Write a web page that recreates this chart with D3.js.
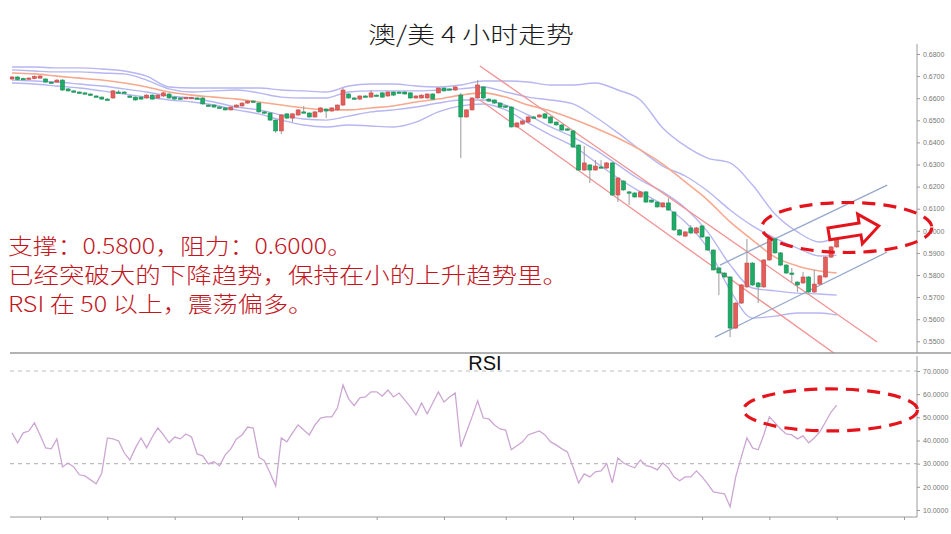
<!DOCTYPE html>
<html><head><meta charset="utf-8">
<script src="https://cdn.jsdelivr.net/npm/d3@7"></script>
<style>
html,body{margin:0;padding:0;background:#fff;}
svg{display:block;}
</style></head><body>
<svg id="chart" width="951" height="534"></svg>
<script>
// ---------------- DATA ----------------
const opens = [0.6687,0.6696,0.6689,0.6689,0.6689,0.6691,0.6687,0.6673,0.6673,0.6682,
0.6642,0.6633,0.6628,0.6624,0.6619,0.6610,0.6605,0.6596,0.6601,0.6628,
0.6628,0.6610,0.6605,0.6605,0.6601,0.6614,0.6601,0.6610,0.6619,0.6605,
0.6601,0.6599,0.6599,0.6601,0.6601,0.6569,0.6569,0.6560,0.6556,0.6547,
0.6560,0.6565,0.6578,0.6587,0.6578,0.6538,0.6533,0.6501,0.6452,0.6529,
0.6510,0.6524,0.6538,0.6533,0.6515,0.6538,0.6551,0.6542,0.6547,0.6569,
0.6619,0.6601,0.6596,0.6610,0.6605,0.6614,0.6624,0.6610,0.6628,0.6628,
0.6628,0.6624,0.6601,0.6601,0.6601,0.6619,0.6624,0.6646,0.6642,0.6637,
0.6614,0.6515,0.6547,0.6601,0.6651,0.6596,0.6592,0.6578,0.6565,0.6560,
0.6470,0.6483,0.6492,0.6515,0.6515,0.6529,0.6515,0.6492,0.6479,0.6461,
0.6452,0.6388,0.6275,0.6298,0.6275,0.6289,0.6284,0.6307,0.6162,0.6225,
0.6176,0.6171,0.6153,0.6176,0.6139,0.6130,0.6108,0.6126,0.6085,0.6004,
0.5976,0.6013,0.5990,0.6022,0.5972,0.5913,0.5832,0.5809,0.5791,0.5560,
0.5673,0.5746,0.5854,0.5764,0.5746,0.5868,0.5963,0.5900,0.5845,0.5809,
0.5768,0.5764,0.5791,0.5723,0.5759,0.5791,0.5881,0.5927];
const highs = [0.6700,0.6700,0.6693,0.6695,0.6703,0.6705,0.6690,0.6676,0.6686,0.6686,
0.6645,0.6636,0.6631,0.6627,0.6622,0.6613,0.6608,0.6600,0.6637,0.6637,
0.6631,0.6613,0.6608,0.6609,0.6618,0.6618,0.6617,0.6628,0.6622,0.6608,
0.6604,0.6606,0.6606,0.6604,0.6604,0.6572,0.6572,0.6563,0.6559,0.6563,
0.6572,0.6581,0.6590,0.6590,0.6581,0.6541,0.6536,0.6504,0.6528,0.6532,
0.6532,0.6550,0.6565,0.6536,0.6541,0.6559,0.6554,0.6559,0.6572,0.6646,
0.6623,0.6604,0.6613,0.6613,0.6637,0.6617,0.6627,0.6631,0.6631,0.6631,
0.6631,0.6627,0.6613,0.6617,0.6622,0.6622,0.6649,0.6649,0.6645,0.6654,
0.6624,0.6550,0.6604,0.6682,0.6655,0.6600,0.6595,0.6581,0.6568,0.6563,
0.6491,0.6500,0.6518,0.6520,0.6528,0.6532,0.6518,0.6495,0.6482,0.6464,
0.6455,0.6391,0.6384,0.6301,0.6320,0.6320,0.6311,0.6311,0.6243,0.6229,
0.6180,0.6175,0.6180,0.6180,0.6142,0.6133,0.6129,0.6148,0.6088,0.6008,
0.5998,0.6026,0.6017,0.6026,0.5975,0.5916,0.5835,0.5812,0.5795,0.5677,
0.5759,0.5963,0.5858,0.5768,0.5872,0.5981,0.5967,0.5904,0.5849,0.5832,
0.5772,0.5814,0.5795,0.5823,0.5800,0.5885,0.5931,0.5995];
const lows = [0.6682,0.6680,0.6683,0.6686,0.6686,0.6688,0.6670,0.6668,0.6670,0.6633,
0.6630,0.6625,0.6621,0.6618,0.6611,0.6605,0.6593,0.6590,0.6597,0.6623,
0.6623,0.6602,0.6589,0.6593,0.6597,0.6593,0.6598,0.6606,0.6598,0.6593,
0.6596,0.6596,0.6596,0.6596,0.6571,0.6562,0.6557,0.6553,0.6544,0.6544,
0.6557,0.6562,0.6575,0.6580,0.6535,0.6530,0.6498,0.6443,0.6438,0.6507,
0.6492,0.6521,0.6533,0.6512,0.6512,0.6535,0.6510,0.6539,0.6544,0.6565,
0.6598,0.6596,0.6593,0.6605,0.6602,0.6609,0.6602,0.6607,0.6611,0.6623,
0.6616,0.6598,0.6598,0.6598,0.6598,0.6593,0.6621,0.6630,0.6637,0.6634,
0.6329,0.6512,0.6544,0.6597,0.6597,0.6584,0.6575,0.6557,0.6557,0.6467,
0.6467,0.6480,0.6489,0.6510,0.6512,0.6507,0.6485,0.6476,0.6453,0.6453,
0.6376,0.6272,0.6271,0.6216,0.6272,0.6284,0.6281,0.6158,0.6130,0.6181,
0.6117,0.6150,0.6150,0.6127,0.6127,0.6105,0.6105,0.6091,0.6000,0.5978,
0.5973,0.5987,0.5987,0.5968,0.5910,0.5820,0.5709,0.5788,0.5519,0.5556,
0.5669,0.5742,0.5751,0.5673,0.5742,0.5864,0.5896,0.5841,0.5805,0.5768,
0.5723,0.5760,0.5719,0.5719,0.5755,0.5787,0.5877,0.5923];
const closes = [0.6696,0.6685,0.6687,0.6691,0.6698,0.6700,0.6673,0.6671,0.6682,0.6637,
0.6633,0.6628,0.6624,0.6621,0.6614,0.6608,0.6596,0.6594,0.6633,0.6626,
0.6626,0.6605,0.6592,0.6596,0.6614,0.6596,0.6614,0.6624,0.6601,0.6596,
0.6599,0.6603,0.6603,0.6599,0.6574,0.6565,0.6560,0.6556,0.6547,0.6560,
0.6569,0.6578,0.6587,0.6583,0.6538,0.6533,0.6501,0.6452,0.6524,0.6510,
0.6529,0.6547,0.6536,0.6515,0.6538,0.6556,0.6542,0.6556,0.6569,0.6637,
0.6601,0.6599,0.6610,0.6608,0.6624,0.6612,0.6605,0.6628,0.6614,0.6626,
0.6619,0.6601,0.6610,0.6614,0.6619,0.6596,0.6646,0.6633,0.6640,0.6651,
0.6515,0.6547,0.6601,0.6660,0.6601,0.6587,0.6578,0.6560,0.6560,0.6470,
0.6488,0.6497,0.6515,0.6513,0.6524,0.6510,0.6488,0.6479,0.6456,0.6456,
0.6379,0.6275,0.6307,0.6275,0.6293,0.6287,0.6307,0.6162,0.6239,0.6185,
0.6174,0.6153,0.6176,0.6130,0.6130,0.6108,0.6126,0.6094,0.6004,0.5981,
0.5995,0.5990,0.6013,0.5972,0.5913,0.5823,0.5809,0.5791,0.5560,0.5673,
0.5755,0.5854,0.5755,0.5746,0.5868,0.5963,0.5900,0.5845,0.5809,0.5805,
0.5755,0.5791,0.5723,0.5759,0.5796,0.5881,0.5927,0.5972];

const rsiValues = [43.3,39,43.3,44.1,47.6,42.4,36.8,36.4,40.7,28.6,30.3,28.6,25.2,24.7,23,21.3,26,41.1,40.7,39.8,
34.7,31.6,36.8,41.1,36.8,41.5,45.4,42.4,39,41.5,40.7,42.8,41.5,34.2,33.4,29.9,30.8,29.1,33.8,36.4,
40.7,42.4,45.8,45.4,32.9,31.2,26,20.4,41.1,39.4,43.3,46.7,44.5,42.4,46.7,
49.7,50.2,50.2,54,64,58,55,58.4,58.8,61,61,59.2,61.8,58.8,60.5,57.5,54.5,51,56.2,51.5,
56.2,61,56.6,58.8,60.5,37.2,43.7,50.2,57.1,49.7,49.3,46.7,45,44.5,36,37.7,39.4,42.4,43.3,44.1,
42.4,39.4,38.1,36.4,35.1,28.6,21.7,25.6,24.3,26.5,26.9,30,21.7,32.5,30.3,29.1,28.2,
31.6,29.1,28.6,27.3,30.3,28.2,24.3,22.6,24.3,24.3,26.9,24.3,21.3,17.8,17.4,17,11.4,24.3,32.9,41.1,
36.8,36,42.4,50.2,47.6,45,42.8,42.4,40.7,42,39,41.1,43.7,48,52.3,55.3];

// band sample positions (candle index) and values
const bandIdx = [0,4,8,12,16,20,24,28,32,36,40,44,48,52,56,60,64,68,72,76,80,84,88,92,96,100,104,108,112,116,120,124,128,132,136,140,144,147];
const bandOuterUpper = [0.6741,0.6741,0.6737,0.6737,0.6732,0.6723,0.6700,0.6651,0.6646,0.6646,0.6646,0.6646,0.6637,0.6633,0.6628,0.6655,0.6664,0.6664,0.6655,0.6651,0.6660,0.6678,0.6678,0.6673,0.6660,0.6660,0.6669,0.6637,0.6592,0.6465,0.6384,0.6329,0.6307,0.6207,0.6076,0.5995,0.5949,0.5972];
const bandInnerUpper = [0.6728,0.6723,0.6719,0.6719,0.6714,0.6710,0.6682,0.6642,0.6628,0.6633,0.6637,0.6624,0.6605,0.6601,0.6601,0.6628,0.6633,0.6633,0.6633,0.6637,0.6642,0.6651,0.6628,0.6605,0.6592,0.6574,0.6515,0.6443,0.6366,0.6293,0.6248,0.6180,0.6094,0.6022,0.5967,0.5922,0.5886,0.5890];
const movingAvg = [0.6714,0.6710,0.6700,0.6691,0.6682,0.6669,0.6651,0.6628,0.6614,0.6605,0.6596,0.6583,0.6569,0.6556,0.6547,0.6547,0.6556,0.6565,0.6583,0.6596,0.6614,0.6624,0.6605,0.6569,0.6542,0.6506,0.6465,0.6420,0.6366,0.6302,0.6221,0.6139,0.6040,0.5958,0.5881,0.5841,0.5818,0.5809];
const bandInnerLower = [0.6682,0.6678,0.6673,0.6664,0.6655,0.6642,0.6628,0.6610,0.6601,0.6583,0.6560,0.6547,0.6524,0.6506,0.6501,0.6519,0.6538,0.6547,0.6560,0.6578,0.6592,0.6592,0.6569,0.6524,0.6470,0.6424,0.6366,0.6298,0.6230,0.6176,0.6103,0.5995,0.5846,0.5741,0.5728,0.5718,0.5714,0.5709];
const bandOuterLower = [0.6669,0.6664,0.6655,0.6646,0.6633,0.6619,0.6605,0.6592,0.6583,0.6569,0.6547,0.6529,0.6501,0.6479,0.6470,0.6479,0.6474,0.6470,0.6492,0.6538,0.6565,0.6574,0.6547,0.6488,0.6433,0.6384,0.6311,0.6239,0.6176,0.6117,0.6040,0.5922,0.5732,0.5605,0.5614,0.5628,0.5628,0.5619];

// trend lines: [candle index, price]
const downChannelUpper = [[83.4,0.6746],[154.2,0.5497]];
const downChannelLower = [[83.4,0.6592],[147.2,0.5434]];
const upChannelUpper = [[126.2,0.5845],[156,0.6207]];
const upChannelLower = [[125.3,0.5519],[156,0.5904]];

const priceTicks = [0.55,0.56,0.57,0.58,0.59,0.60,0.61,0.62,0.63,0.64,0.65,0.66,0.67,0.68];
const rsiTicks = [10,20,30,40,50,60,70];
const rsiGuides = [30,70];
const timeTicks = [5,17,29,41,51,65,77,88,100,111,123,135,147,159];

const titleText = "澳/美 4 小时走势";
const noteLines = ["支撑：0.5800，阻力：0.6000。","已经突破大的下降趋势，保持在小的上升趋势里。","RSI 在 50 以上，震荡偏多。"];

// annotation anchors (index, value)
const priceEllipse = {i:148.8, p:0.6015};
const rsiEllipse = {i:145.9, v:53.2};
const arrowFrom = {i:145.6, p:0.5986}, arrowTo = {i:154.5, p:0.6022};

// ---------------- DRAW ----------------
const svg = d3.select("#chart");
const N = closes.length;
const x = d3.scaleLinear().domain([0, N-1]).range([12, 836.7]);
const yP = d3.scaleLinear().domain([0.55, 0.68]).range([341.3, 54]);
const yR = d3.scaleLinear().domain([10, 70]).range([510, 371]);

const axisX = 917, topY0 = 44, sepY = 353, bottomY = 517, leftX = 10;

const defs = svg.append("defs");
defs.append("clipPath").attr("id","clipTop").append("rect")
  .attr("x",leftX).attr("y",topY0).attr("width",axisX-leftX).attr("height",sepY-topY0);
defs.append("clipPath").attr("id","clipBot").append("rect")
  .attr("x",leftX).attr("y",sepY+1).attr("width",axisX-leftX).attr("height",bottomY-sepY-1);

// title
svg.append("text").attr("x",471).attr("y",43).attr("text-anchor","middle")
  .attr("font-family","'Noto Sans CJK SC'").attr("font-weight",300).attr("font-size",23).attr("fill","#1a1a1a")
  .attr("textLength",206).attr("lengthAdjust","spacingAndGlyphs")
  .text(titleText);

const topG = svg.append("g").attr("clip-path","url(#clipTop)");

// bands
const bandLine = d3.line().x(d=>x(d[0])).y(d=>yP(d[1])).curve(d3.curveMonotoneX);
const bandSets = [
  {v:bandOuterUpper, c:"#b6b6f2", w:1.4},
  {v:bandInnerUpper, c:"#b6b6f2", w:1.4},
  {v:bandInnerLower, c:"#b6b6f2", w:1.4},
  {v:bandOuterLower, c:"#b6b6f2", w:1.4},
  {v:movingAvg, c:"#f6a98e", w:1.6}
];
bandSets.forEach(b=>{
  topG.append("path").datum(bandIdx.map((k,j)=>[k,b.v[j]]))
    .attr("d",bandLine).attr("fill","none").attr("stroke",b.c).attr("stroke-width",b.w);
});

// trend lines
const tl = d3.line().x(d=>x(d[0])).y(d=>yP(d[1]));
[[downChannelUpper,"#f29292"],[downChannelLower,"#f29292"],[upChannelUpper,"#95a8cc"],[upChannelLower,"#95a8cc"]]
 .forEach(([pts,c])=>{
  topG.append("path").datum(pts).attr("d",tl).attr("fill","none").attr("stroke",c).attr("stroke-width",1.3);
 });

// candles
const candles = d3.range(N).map(i=>({i,o:opens[i],h:highs[i],l:lows[i],c:closes[i]}));
const bw = 4;
const cg = topG.append("g");
cg.selectAll("line.wick").data(candles).join("line").attr("class","wick")
  .attr("x1",d=>x(d.i)).attr("x2",d=>x(d.i))
  .attr("y1",d=>yP(d.h)).attr("y2",d=>yP(d.l))
  .attr("stroke","#9a9a9a").attr("stroke-width",1);
cg.selectAll("rect.body").data(candles).join("rect").attr("class","body")
  .attr("x",d=>x(d.i)-bw/2).attr("width",bw)
  .attr("y",d=>Math.min(yP(d.o),yP(d.c)))
  .attr("height",d=>Math.max(1.3,Math.abs(yP(d.o)-yP(d.c))))
  .attr("fill",d=>d.c>=d.o?"#e35d5a":"#1faa66")
  .attr("stroke",d=>d.c>=d.o?"#c84a47":"#168f55").attr("stroke-width",0.6);

// price axis
svg.append("line").attr("x1",axisX).attr("x2",axisX).attr("y1",topY0).attr("y2",sepY)
  .attr("stroke","#9a9a9a").attr("stroke-width",1);
const axP = svg.append("g").attr("transform",`translate(${axisX},0)`)
  .call(d3.axisRight(yP).tickValues(priceTicks).tickFormat(d3.format(".4f")).tickSize(3).tickPadding(3));
axP.select(".domain").remove();
axP.selectAll("line").attr("stroke","#9a9a9a");
axP.selectAll("text").attr("font-family","'Liberation Sans'").attr("font-size",7).attr("fill","#777");

// separator
svg.append("line").attr("x1",leftX).attr("x2",951).attr("y1",sepY).attr("y2",sepY)
  .attr("stroke","#999").attr("stroke-width",1.3);

// RSI label
svg.append("text").attr("x",485).attr("y",370).attr("text-anchor","middle")
  .attr("font-family","'Liberation Sans'").attr("font-size",20).attr("fill","#111").text("RSI");

// RSI panel
const botG = svg.append("g").attr("clip-path","url(#clipBot)");
botG.selectAll("line.guide").data(rsiGuides).join("line").attr("class","guide")
  .attr("x1",leftX).attr("x2",axisX).attr("y1",d=>yR(d)).attr("y2",d=>yR(d))
  .attr("stroke","#bdbdbd").attr("stroke-width",1.2).attr("stroke-dasharray","4,4");
botG.append("path").datum(rsiValues.map((v,i)=>[i,v]))
  .attr("d",d3.line().x(d=>x(d[0])).y(d=>yR(d[1])))
  .attr("fill","none").attr("stroke","#cca6d2").attr("stroke-width",1.3);

svg.append("line").attr("x1",axisX).attr("x2",axisX).attr("y1",sepY+3).attr("y2",bottomY)
  .attr("stroke","#9a9a9a").attr("stroke-width",1);
const axR = svg.append("g").attr("transform",`translate(${axisX},0)`)
  .call(d3.axisRight(yR).tickValues(rsiTicks).tickFormat(d3.format(".4f")).tickSize(3).tickPadding(3));
axR.select(".domain").remove();
axR.selectAll("line").attr("stroke","#9a9a9a");
axR.selectAll("text").attr("font-family","'Liberation Sans'").attr("font-size",7).attr("fill","#777");

// time axis
svg.append("line").attr("x1",leftX).attr("x2",axisX).attr("y1",bottomY).attr("y2",bottomY)
  .attr("stroke","#9a9a9a").attr("stroke-width",1.2);
const axT = svg.append("g").attr("transform",`translate(0,${bottomY})`)
  .call(d3.axisBottom(x).tickValues(timeTicks).tickFormat("").tickSize(3));
axT.select(".domain").remove();
axT.selectAll("line").attr("stroke","#9a9a9a");

// notes
const noteY = [244, 273, 302];
const noteLen = [344, 560, 305];
noteLines.forEach((t,k)=>{
  svg.append("text").attr("x",8).attr("y",noteY[k]).attr("dominant-baseline","central")
    .attr("font-family","'Noto Sans CJK SC'").attr("font-weight",300).attr("font-size",22).attr("fill","#c3151d")
    .attr("textLength",noteLen[k]).attr("lengthAdjust","spacingAndGlyphs")
    .text(t);
});

// ellipses
const red = "#e3141c";
svg.append("ellipse").attr("cx",x(priceEllipse.i)).attr("cy",yP(priceEllipse.p)).attr("rx",85).attr("ry",25)
  .attr("fill","none").attr("stroke",red).attr("stroke-width",3.2).attr("stroke-dasharray","13,8");
svg.append("ellipse").attr("cx",x(rsiEllipse.i)).attr("cy",yR(rsiEllipse.v)).attr("rx",87).attr("ry",21)
  .attr("fill","none").attr("stroke",red).attr("stroke-width",3.2).attr("stroke-dasharray","13,8");

// arrow
const ax0 = x(arrowFrom.i), ay0 = yP(arrowFrom.p), ax1 = x(arrowTo.i), ay1 = yP(arrowTo.p);
const L = Math.hypot(ax1-ax0, ay1-ay0), ang = Math.atan2(ay1-ay0, ax1-ax0)*180/Math.PI;
const hl = 19, sw = 6, hw = 15;
svg.append("path")
  .attr("d",`M0,${-sw} L${L-hl},${-sw} L${L-hl},${-hw} L${L},0 L${L-hl},${hw} L${L-hl},${sw} L0,${sw} Z`)
  .attr("transform",`translate(${ax0},${ay0}) rotate(${ang})`)
  .attr("fill","#fff").attr("stroke",red).attr("stroke-width",3).attr("stroke-linejoin","miter");
</script>
</body></html>
